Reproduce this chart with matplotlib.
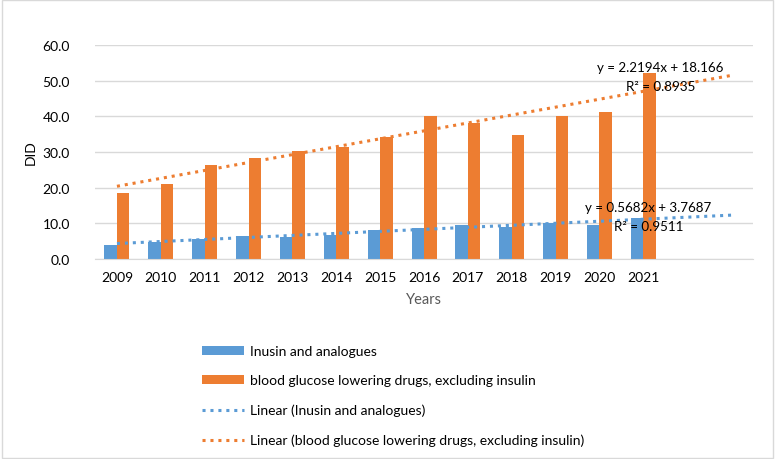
import numpy as np
import matplotlib
matplotlib.use("Agg")
import matplotlib.pyplot as plt
from matplotlib.patches import Rectangle

plt.rcParams['font.family'] = ['Lato', 'DejaVu Sans']

years = ['2009', '2010', '2011', '2012', '2013', '2014', '2015',
         '2016', '2017', '2018', '2019', '2020', '2021']
insulin = [3.9, 4.7, 5.6, 6.4, 6.2, 6.7, 8.1, 8.7, 9.6, 8.9, 10.1, 9.5, 11.5]
glucose = [18.4, 20.9, 26.3, 28.2, 30.3, 31.5, 34.3, 40.1, 38.1, 34.8, 40.1, 41.2, 52.2]

# trendline coefficients as shown on the chart (slope, intercept, R^2)
trend_insulin = (0.5682, 3.7687, 0.9511)
trend_glucose = (2.2194, 18.166, 0.8935)
forecast = 2  # periods forward

blue = '#5B9BD5'
orange = '#ED7D31'
txt = '#595959'

fig = plt.figure(figsize=(7.75, 4.6), dpi=100)
ax = fig.add_axes([0.1226, 0.4348, 0.849, 0.4652])

x = np.arange(len(years))
w = 0.285
b1 = ax.bar(x - w / 2, insulin, w, color=blue, label='Inusin and analogues', zorder=2)
b2 = ax.bar(x + w / 2, glucose, w, color=orange,
            label='blood glucose lowering drugs, excluding insulin', zorder=2)

xt = np.arange(len(years) + forecast)
lines = []
for (m, b, r2), col, name in [(trend_insulin, blue, 'Inusin and analogues'),
                              (trend_glucose, orange, 'blood glucose lowering drugs, excluding insulin')]:
    ln, = ax.plot(xt, m * (xt + 1) + b, color=col, ls=(0, (1, 1.6)), lw=2.2,
                  label=f'Linear ({name})', zorder=3)
    lines.append(ln)

ax.text(12.39, 53.8, f'y = {trend_glucose[0]}x + {trend_glucose[1]}', ha='center', va='center',
        fontsize=9.6, color='black', zorder=4)
ax.text(12.39, 48.5, f'R² = {trend_glucose[2]}', ha='center', va='center',
        fontsize=9.6, color='black', zorder=4)
ax.text(12.12, 14.6, f'y = {trend_insulin[0]}x + {trend_insulin[1]}', ha='center', va='center',
        fontsize=9.6, color='black', zorder=4)
ax.text(12.12, 9.2, f'R² = {trend_insulin[2]}', ha='center', va='center',
        fontsize=9.6, color='black', zorder=4)

ax.set_xlim(-0.5, len(years) + forecast - 0.5)
ax.set_ylim(0, 60)
ax.set_yticks(np.arange(0, 61, 10))
ax.set_yticklabels([f'{v:.1f}' for v in np.arange(0, 61, 10)])
ax.set_xticks(x)
ax.set_xticklabels(years)
ax.tick_params(axis='both', length=0, labelsize=10, labelcolor='black')
ax.tick_params(axis='y', pad=18)
ax.tick_params(axis='x', pad=9)
ax.grid(axis='y', color='#D9D9D9', lw=1, zorder=0)
for s in ['top', 'right', 'left']:
    ax.spines[s].set_visible(False)
ax.spines['bottom'].set_color('#D9D9D9')

ax.set_ylabel('DID', fontsize=10, color='black', labelpad=4)
ax.set_xlabel('Years', fontsize=10.5, color=txt, labelpad=6)

fig.legend([b1, b2] + lines, [h.get_label() for h in [b1, b2] + lines],
           loc='upper left', bbox_to_anchor=(0.245, 0.275), frameon=False,
           fontsize=10, handlelength=3.0, handleheight=0.6, labelspacing=1.25,
           handletextpad=0.4)

fig.patches.append(Rectangle((0.002, 0.003), 0.995, 0.994, transform=fig.transFigure,
                             fill=False, edgecolor='#D9D9D9', lw=1))

fig.savefig('out.png', dpi=100)
